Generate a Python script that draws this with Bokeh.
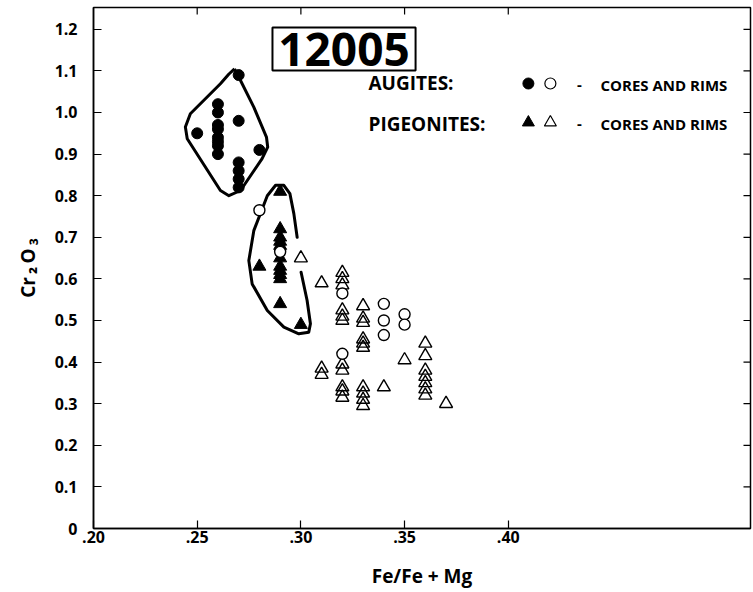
from bokeh.plotting import figure
from bokeh.models import FixedTicker, Range1d, Label, BoxAnnotation
from bokeh.embed import file_html
from bokeh.resources import INLINE

# ---------------- data ----------------
# Augites, cores (filled circles)
aug_core_x = [0.25, 0.26, 0.26, 0.26, 0.26, 0.26, 0.26, 0.26, 0.26,
              0.27, 0.27, 0.27, 0.27, 0.27, 0.27, 0.28]
aug_core_y = [0.95, 1.02, 1.00, 0.97, 0.96, 0.94, 0.93, 0.92, 0.90,
              1.09, 0.98, 0.88, 0.86, 0.84, 0.82, 0.91]
# Augites, rims (open circles)
aug_rim_x = [0.28, 0.29, 0.32, 0.32, 0.34, 0.34, 0.34, 0.35, 0.35]
aug_rim_y = [0.765, 0.665, 0.565, 0.42, 0.54, 0.50, 0.465, 0.515, 0.49]
# Pigeonites, cores (filled triangles)
pig_core_x = [0.29, 0.28, 0.29, 0.30,
              0.29, 0.29, 0.29, 0.29, 0.29, 0.29, 0.29, 0.29, 0.29]
pig_core_y = [0.81, 0.63, 0.54, 0.49,
              0.72, 0.70, 0.69, 0.68, 0.65, 0.63, 0.62, 0.61, 0.60]
# Pigeonites, rims (open triangles)
pig_rim_x = [0.30, 0.31,
             0.32, 0.32, 0.32, 0.32, 0.32, 0.32,
             0.33, 0.33, 0.33, 0.33, 0.33, 0.33,
             0.32, 0.32, 0.31, 0.31, 0.35,
             0.36, 0.36, 0.36, 0.36, 0.36, 0.36, 0.36,
             0.37, 0.34,
             0.32, 0.32, 0.32,
             0.33, 0.33, 0.33, 0.33]
pig_rim_y = [0.65, 0.59,
             0.615, 0.60, 0.585, 0.525, 0.51, 0.50,
             0.535, 0.505, 0.495, 0.455, 0.445, 0.435,
             0.395, 0.38, 0.385, 0.37, 0.405,
             0.445, 0.415, 0.38, 0.365, 0.35, 0.335, 0.32,
             0.30, 0.34,
             0.34, 0.33, 0.315,
             0.34, 0.325, 0.31, 0.295]

# hand-drawn envelopes
aug_env_x = [0.268, 0.2709, 0.2773, 0.2834, 0.284, 0.2813, 0.2709, 0.2653,
             0.2612, 0.2452, 0.2443, 0.2467, 0.2612, 0.2652, 0.268]
aug_env_y = [1.105, 1.077, 1.013, 0.941, 0.917, 0.889, 0.8125, 0.80,
             0.8125, 0.937, 0.965, 0.997, 1.069, 1.092, 1.105]
pig_env_x = [0.2982, 0.2966, 0.2947, 0.2918, 0.2878, 0.2838, 0.2773, 0.2749,
             0.2765, 0.2838, 0.2918, 0.2990, 0.3038, 0.3046, 0.3030, 0.3001]
pig_env_y = [0.700, 0.757, 0.805, 0.825, 0.825, 0.800, 0.716, 0.644,
             0.588, 0.524, 0.484, 0.468, 0.472, 0.492, 0.548, 0.616]

x_ticks = [0.20, 0.25, 0.30, 0.35, 0.40]
x_tick_labels = [".20", ".25", ".30", ".35", ".40"]
y_ticks = [0, 0.1, 0.2, 0.3, 0.4, 0.5, 0.6, 0.7, 0.8, 0.9, 1.0, 1.1, 1.2]
y_tick_labels = ["0", "0.1", "0.2", "0.3", "0.4", "0.5", "0.6", "0.7",
                 "0.8", "0.9", "1.0", "1.1", "1.2"]
top_ticks = [0.25, 0.30, 0.35, 0.40]

FONT = "Open Sans"
X0, X1 = 0.20, 0.5168
Y0, Y1 = 0.0, 1.2524

p = figure(width=753, height=592, output_backend="svg", toolbar_location=None,
           x_range=Range1d(X0, X1), y_range=Range1d(Y0, Y1),
           min_border_left=93, min_border_right=3, min_border_top=7,
           min_border_bottom=64)
p.grid.visible = False
p.outline_line_color = "black"
p.outline_line_width = 1.5
p.background_fill_color = "white"
p.border_fill_color = "white"

xa = p.xaxis[0]
xa.ticker = FixedTicker(ticks=x_ticks)
xa.major_label_overrides = dict(zip(x_ticks, x_tick_labels))
xa.axis_label = "Fe/Fe + Mg"
ya = p.yaxis[0]
ya.ticker = FixedTicker(ticks=y_ticks)
ya.major_label_overrides = dict(zip(y_ticks, y_tick_labels))
ya.axis_label = "Cr\u2009\u2082\u2009O\u2009\u2083"

for ax in (xa, ya):
    ax.major_tick_in = 8
    ax.major_tick_out = 0
    ax.minor_tick_line_color = None
    ax.axis_line_width = 1.5
    ax.major_tick_line_width = 1.2
    ax.major_label_text_font = FONT
    ax.major_label_text_font_style = "bold"
    ax.major_label_text_font_size = "16px"
    ax.major_label_text_color = "black"
    ax.axis_label_text_font = FONT
    ax.axis_label_text_font_style = "bold"
    ax.axis_label_text_color = "black"
xa.axis_label_text_font_size = "19px"
ya.axis_label_text_font_size = "19px"
xa.major_label_standoff = 2
xa.axis_label_standoff = 17
ya.major_label_standoff = 16
ya.axis_label_standoff = 11

# inward ticks on the right and top frame edges
rt = 0.00338
tt = 0.0168
p.segment(x0=[X1] * len(y_ticks), y0=y_ticks, x1=[X1 - rt] * len(y_ticks),
          y1=y_ticks, line_color="black", line_width=1.2)
p.segment(x0=top_ticks, y0=[Y1] * len(top_ticks), x1=top_ticks,
          y1=[Y1 - tt] * len(top_ticks), line_color="black", line_width=1.2)

# envelopes
p.line(aug_env_x + [aug_env_x[0]], aug_env_y + [aug_env_y[0]],
       line_color="black", line_width=3, line_join="round")
p.line(pig_env_x, pig_env_y, line_color="black", line_width=3,
       line_join="round", line_cap="round")

# points
p.scatter(aug_core_x, aug_core_y, marker="circle", size=11,
          fill_color="black", line_color="black")
p.scatter(pig_core_x, pig_core_y, marker="triangle", size=13,
          fill_color="black", line_color="black")
p.scatter(pig_rim_x, pig_rim_y, marker="triangle", size=13,
          fill_alpha=0, line_color="black", line_width=1.4)
p.scatter(aug_rim_x, aug_rim_y, marker="circle", size=11,
          fill_color="white", line_color="black", line_width=1.4)

# sample label box
p.add_layout(BoxAnnotation(left=0.2863, right=0.3553, bottom=1.101, top=1.2043,
                           fill_alpha=0, line_color="black", line_alpha=1,
                           line_width=2))
p.add_layout(Label(x=0.3208, y=1.1514, text="12005", text_align="center",
                   text_baseline="alphabetic", text_font=FONT,
                   text_font_style="bold", text_font_size="46px",
                   text_color="black"))

# manual legend
leg_rows = [("AUGITES:", 1.070, 1.0666, 1.0697, "circle", 11),
            ("PIGEONITES:", 0.9716, 0.9728, 0.9760, "triangle", 12)]
for txt, yl, yc, ym, mk, sz in leg_rows:
    p.add_layout(Label(x=0.3326, y=yl, text=txt, text_font=FONT,
                       text_font_style="bold", text_font_size="19px",
                       text_color="black", text_baseline="alphabetic"))
    p.add_layout(Label(x=0.4343, y=yc, text="-", text_font=FONT,
                       text_font_style="bold", text_font_size="15px",
                       text_align="center", text_color="black",
                       text_baseline="alphabetic"))
    p.add_layout(Label(x=0.4445, y=yc, text="CORES AND RIMS", text_font=FONT,
                       text_font_style="bold", text_font_size="15px",
                       text_color="black", text_baseline="alphabetic"))
    p.scatter([0.4097], [ym], marker=mk, size=sz,
              fill_color="black", line_color="black")
    p.scatter([0.4203], [ym], marker=mk, size=sz,
              fill_alpha=0, line_color="black", line_width=1.2)

open("out.html", "w").write(file_html(p, INLINE))
